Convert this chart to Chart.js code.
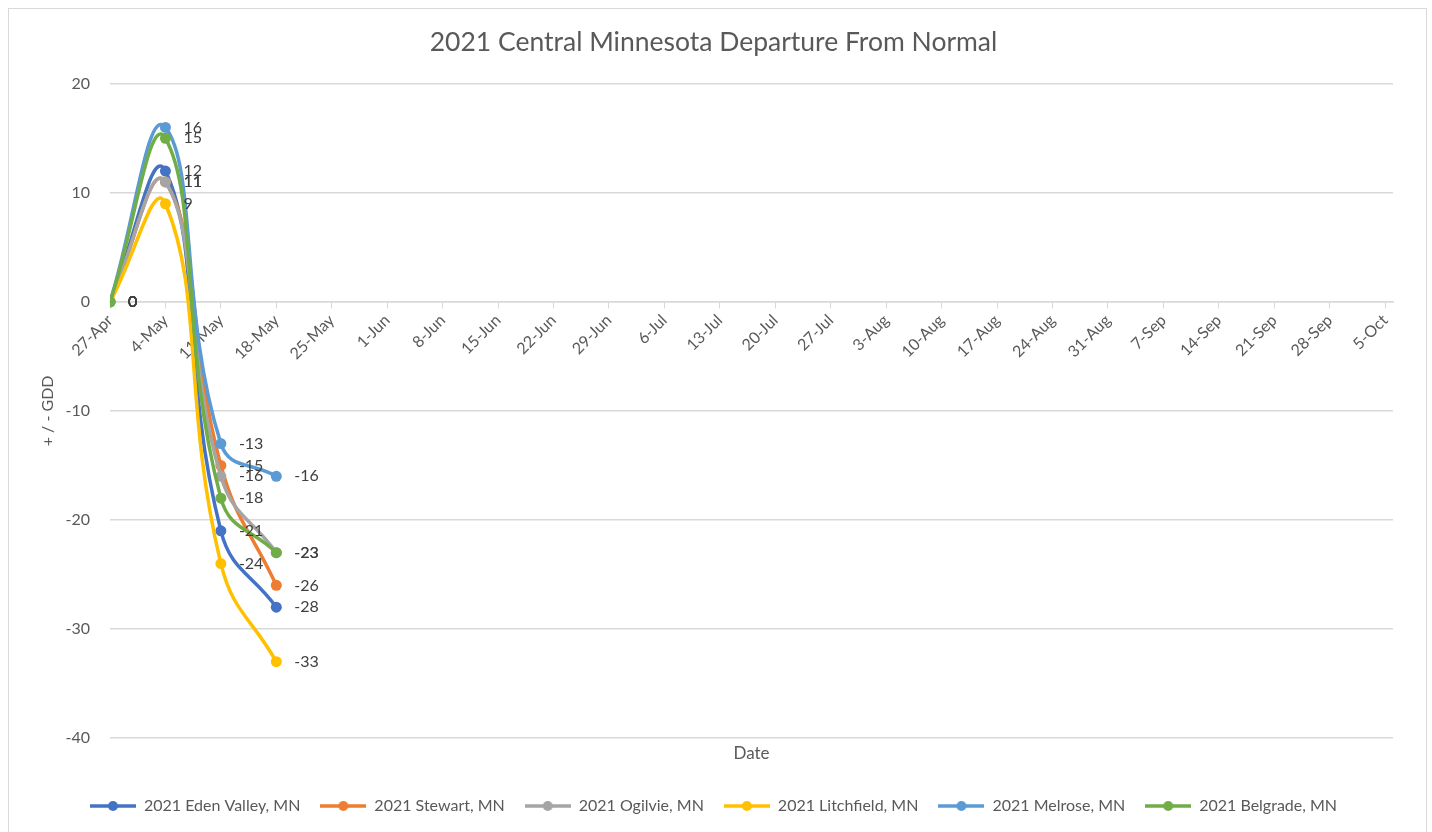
<!DOCTYPE html>
<html>
<head>
<meta charset="utf-8">
<title>2021 Central Minnesota Departure From Normal</title>
<script src="https://cdn.jsdelivr.net/npm/chart.js@4.4.1/dist/chart.umd.min.js"></script>
<style>
    html, body { margin: 0; padding: 0; background: #fff; }
    #frame { position: absolute; left: 8px; top: 8px; right: 5px; bottom: -2px; border: 1px solid #d9d9d9; }
    #wrap { position: absolute; left: 0; top: 0; width: 1432px; height: 832px; }
</style>
</head>
<body>
<div id="frame"></div>
<div id="wrap"><canvas id="gddChart"></canvas></div>
<script>
// Observation dates (days after 27-Apr)
const obsDays = [0, 7, 14, 21];

const edenValley = [0, 12, -21, -28];
const stewart    = [0, 11, -15, -26];
const ogilvie    = [0, 11, -16, -23];
const litchfield = [0, 9, -24, -33];
const melrose    = [0, 16, -13, -16];
const belgrade   = [0, 15, -18, -23];

const seriesNames = ['2021 Eden Valley, MN', '2021 Stewart, MN', '2021 Ogilvie, MN',
    '2021 Litchfield, MN', '2021 Melrose, MN', '2021 Belgrade, MN'];
const seriesValues = [edenValley, stewart, ogilvie, litchfield, melrose, belgrade];
const seriesColors = ['#4472C4', '#ED7D31', '#A5A5A5', '#FFC000', '#5B9BD5', '#70AD47'];

// one label per week on the date axis
const weekLabels = ['27-Apr', '4-May', '11-May', '18-May', '25-May', '1-Jun', '8-Jun', '15-Jun',
    '22-Jun', '29-Jun', '6-Jul', '13-Jul', '20-Jul', '27-Jul', '3-Aug', '10-Aug', '17-Aug',
    '24-Aug', '31-Aug', '7-Sep', '14-Sep', '21-Sep', '28-Sep', '5-Oct'];
const yTicks = [-40, -30, -20, -10, 0, 10, 20];

const FONT = "Lato, 'Open Sans', sans-serif";
const TEXT = '#595959';

// legend icon: short line with a marker in the middle (Excel style)
function legendIcon(color) {
    const c = document.createElement('canvas');
    c.width = 46; c.height = 12;
    const g = c.getContext('2d');
    g.strokeStyle = color;
    g.lineWidth = 3.5;
    g.beginPath(); g.moveTo(0, 6); g.lineTo(46, 6); g.stroke();
    g.fillStyle = color;
    g.beginPath(); g.arc(23, 6, 5, 0, Math.PI * 2); g.fill();
    return c;
}
const icons = seriesColors.map(legendIcon);

// value labels to the right of each point
const pointLabels = {
    id: 'pointLabels',
    afterDatasetsDraw(chart) {
        const ctx = chart.ctx;
        ctx.save();
        ctx.font = '16px ' + FONT;
        ctx.fillStyle = '#404040';
        ctx.textBaseline = 'middle';
        ctx.textAlign = 'left';
        chart.data.datasets.forEach((ds, i) => {
            chart.getDatasetMeta(i).data.forEach((pt, j) => {
                ctx.fillText(String(ds.data[j].y), pt.x + 18, pt.y);
            });
        });
        ctx.restore();
    }
};

const datasets = seriesNames.map((name, i) => ({
    label: name,
    data: obsDays.map((d, j) => ({ x: d, y: seriesValues[i][j] })),
    borderColor: seriesColors[i],
    backgroundColor: seriesColors[i],
    pointBackgroundColor: seriesColors[i],
    pointBorderColor: seriesColors[i],
    borderWidth: 3.5,
    pointRadius: 5.5,
    pointBorderWidth: 0,
    tension: 0.45,
    fill: false,
    order: seriesNames.length - i
}));

new Chart(document.getElementById('gddChart'), {
    type: 'line',
    data: { datasets: datasets },
    plugins: [pointLabels],
    options: {
        responsive: true,
        maintainAspectRatio: false,
        animation: false,
        layout: { padding: { left: 34, right: 39, top: 8, bottom: 8 } },
        plugins: {
            title: {
                display: true,
                text: '2021 Central Minnesota Departure From Normal',
                color: TEXT,
                font: { family: FONT, size: 26.5, weight: 'normal' },
                padding: { top: 19, bottom: 25 }
            },
            legend: {
                position: 'bottom',
                labels: {
                    color: TEXT,
                    font: { family: FONT, size: 16 },
                    usePointStyle: true,
                    pointStyleWidth: 46,
                    boxHeight: 12,
                    padding: 20,
                    sort: (a, b) => a.datasetIndex - b.datasetIndex,
                    generateLabels: function(chart) {
                        const items = Chart.defaults.plugins.legend.labels.generateLabels(chart);
                        items.forEach(it => { it.pointStyle = icons[it.datasetIndex]; });
                        return items;
                    }
                }
            },
            tooltip: { enabled: false }
        },
        scales: {
            x: {
                type: 'linear',
                position: { y: 0 },
                min: 0,
                max: 162,
                afterBuildTicks: function(scale) {
                    scale.ticks = weekLabels.map((_, i) => ({ value: i * 7 }));
                },
                ticks: {
                    color: TEXT,
                    font: { family: FONT, size: 16 },
                    minRotation: 45,
                    maxRotation: 45,
                    autoSkip: false,
                    padding: 3,
                    callback: function(value) {
                        return weekLabels[Math.round(value / 7)];
                    }
                },
                grid: { drawOnChartArea: false, drawTicks: true, tickLength: 6, color: '#d9d9d9' },
                border: { display: true, color: '#d9d9d9', width: 1.5 }
            },
            xTitle: {
                type: 'linear',
                position: 'bottom',
                axis: 'x',
                ticks: { display: false },
                grid: { display: false },
                border: { display: false },
                title: {
                    display: true,
                    text: 'Date',
                    color: TEXT,
                    font: { family: FONT, size: 17 },
                    padding: { top: 0, bottom: 14 }
                },
                afterFit: function(scale) { scale.height = 40; }
            },
            y: {
                min: -40,
                max: 20,
                afterBuildTicks: function(scale) {
                    scale.ticks = yTicks.map(v => ({ value: v }));
                },
                ticks: {
                    color: TEXT,
                    font: { family: FONT, size: 16 },
                    padding: 20
                },
                grid: { color: '#d9d9d9', lineWidth: 1.5, drawTicks: false },
                border: { display: false },
                title: {
                    display: true,
                    text: '+ / - GDD',
                    color: TEXT,
                    font: { family: FONT, size: 16 }
                },
                afterFit: function(scale) { scale.width = 76; }
            }
        }
    }
});
</script>
</body>
</html>
